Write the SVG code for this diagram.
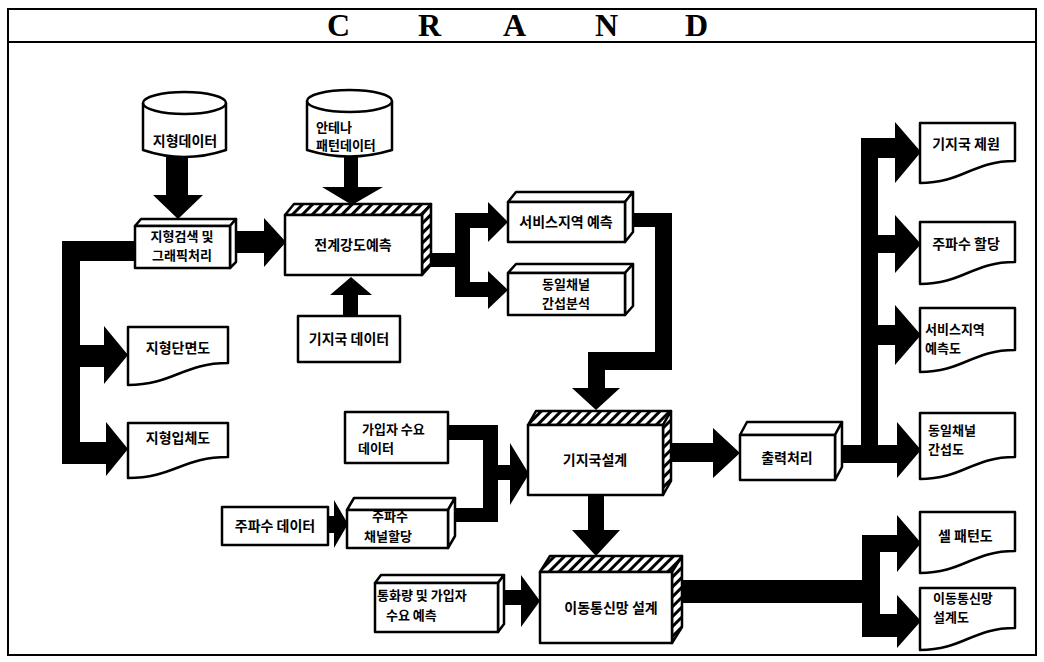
<svg xmlns="http://www.w3.org/2000/svg" width="1044" height="662" viewBox="0 0 1044 662">
<defs>
<pattern id="hatch" width="7" height="7" patternUnits="userSpaceOnUse" patternTransform="rotate(45)">
<rect width="7" height="7" fill="#fff"/><rect width="3" height="7" fill="#000"/>
</pattern>
<style>
.box{fill:#fff;stroke:#000;stroke-width:2.5;stroke-linejoin:round}
.hat{fill:url(#hatch);stroke:#000;stroke-width:2.5;stroke-linejoin:round}
.t{font-family:"Noto Sans CJK KR","Noto Sans",sans-serif;font-weight:bold;font-size:14px;fill:#000}
.t2{font-size:13px}
.c{text-anchor:middle}
.ttl{font-family:"Liberation Serif",serif;font-weight:bold;font-size:32px;fill:#000}
.frame{fill:none;stroke:#000;stroke-width:2}
.arr{fill:#000}
</style>
</defs>
<rect width="1044" height="662" fill="#fff"/>
<g id="frame">
<rect class="frame" x="8" y="9" width="1028" height="646"/>
<line class="frame" x1="8" y1="42" x2="1036" y2="42"/>
<text class="ttl" x="327 372 418 460 503 549 595 640 685" y="36">C R A N D</text>
</g>
<g id="connectors">
<path class="arr" d="M166,157 H188 V195 H203 L178,219 L153,195 H166 Z"/>
<path class="arr" d="M344,157 H358 V187 H383 L352,205 L322,187 H344 Z"/>
<path class="arr" d="M234,231 H264 V218 L286,242 L264,267 V253 H234 Z"/>
<path class="arr" d="M343,316 V295 H330 L351,277 L372,295 H358 V316 Z"/>
<path class="arr" d="M136,241 H62 V464 H106 V476 L128,449 L106,422 V442 H80 V367 H104 V384 L128,355 L104,326 V345 H80 V261 H136 Z"/>
<path class="arr" d="M430,253 H455 V213 H488 V202 L508,222 L488,242 V228 H470 V282 H488 V271 L508,290 L488,309 V297 H455 V267 H430 Z"/>
<path class="arr" d="M632,213 H672 V370 H605 V388 H620 L596,410 L572,388 H588 V352 H655 V227 H632 Z"/>
<path class="arr" d="M448,425 H498 V465 H510 V443 L529,474 L510,505 V480 H498 V522 H455 V508 H483 V440 H448 Z"/>
<path class="arr" d="M328,516 H334 V500 L348,524 L334,548 V533 H328 Z"/>
<path class="arr" d="M588,495 H604 V530 H620 L596,556 L572,530 H588 Z"/>
<path class="arr" d="M503,590 H521 V575 L540,601 L521,627 V605 H503 Z"/>
<path class="arr" d="M670,443 H713 V428 L740,453 L713,478 V462 H670 Z"/>
<path class="arr" d="M840,445 H861 V138 H895 V122 L921,152 L895,183 V158 H878 V235 H895 V215 L921,244 L895,273 V253 H878 V325 H895 V305 L921,335 L895,365 V345 H878 V445 H897 V422 L921,450 L897,478 V463 H840 Z"/>
<path class="arr" d="M682,580 H862 V535 H897 V515 L921,543 L897,572 V552 H880 V614 H897 V595 L921,621 L897,648 V637 H862 V603 H682 Z"/>
</g>
<g id="n-terrain-data">
<path class="box" d="M143,103 V150 Q184,164 226,150 V103"/>
<ellipse class="box" cx="184.5" cy="103" rx="41.5" ry="11"/>
<text class="t" x="185" y="146" text-anchor="middle">지형데이터</text>
</g>
<g id="n-antenna-data">
<path class="box" d="M307,101 V150 Q349,163 392,150 V101"/>
<ellipse class="box" cx="349.5" cy="101" rx="42.5" ry="11"/>
<text class="t t2" x="316" y="132">안테나</text>
<text class="t t2" x="316" y="150">패턴데이터</text>
</g>
<g id="n-terrain-search">
<path class="box" d="M135,226 L141,219 H236 L230,226 Z"/>
<path class="box" d="M230,226 L236,219 V262 L230,268 Z"/>
<rect class="box" x="135" y="226" width="95" height="42"/>
<text class="t t2 c" x="182" y="241">지형검색 및</text>
<text class="t t2 c" x="182" y="260">그래픽처리</text>
</g>
<g id="n-field-strength">
<path class="hat" d="M285,215 L294,204 H431 L422,215 Z"/>
<path class="hat" d="M422,215 L431,204 V265 L422,275 Z"/>
<rect class="box" x="285" y="215" width="137" height="60"/>
<text class="t c" x="353" y="250">전계강도예측</text>
</g>
<g id="n-bs-data">
<rect class="box" x="298" y="316" width="102" height="46"/>
<text class="t c" x="349" y="344">기지국 데이터</text>
</g>
<g id="n-terrain-section">
<path class="box" d="M128,327 H228 V363 C183,363 173,385 128,385 Z"/>
<text class="t c" x="178" y="353">지형단면도</text>
</g>
<g id="n-terrain-3d">
<path class="box" d="M128,423 H228 V457 C183,457 173,478 128,478 Z"/>
<text class="t c" x="178" y="443">지형입체도</text>
</g>
<g id="n-service-pred">
<path class="box" d="M508,202 L516,192 H633 L625,202 Z"/>
<path class="box" d="M625,202 L633,192 V232 L625,242 Z"/>
<rect class="box" x="508" y="202" width="117" height="40"/>
<text class="t c" x="566" y="227">서비스지역 예측</text>
</g>
<g id="n-cochannel">
<path class="box" d="M508,273 L516,264 H633 L625,273 Z"/>
<path class="box" d="M625,273 L633,264 V306 L625,315 Z"/>
<rect class="box" x="508" y="273" width="117" height="42"/>
<text class="t t2 c" x="566" y="289">동일채널</text>
<text class="t t2 c" x="566" y="308">간섭분석</text>
</g>
<g id="n-bs-design">
<path class="hat" d="M528,425 L536,411 H671 L663,425 Z"/>
<path class="hat" d="M663,425 L671,411 V481 L663,495 Z"/>
<rect class="box" x="528" y="425" width="135" height="70"/>
<text class="t c" x="595" y="465">기지국설계</text>
</g>
<g id="n-subscriber-data">
<rect class="box" x="345" y="412" width="103" height="51"/>
<text class="t t2" x="362" y="434">가입자 수요</text>
<text class="t t2" x="358" y="453">데이터</text>
</g>
<g id="n-freq-data">
<rect class="box" x="222" y="507" width="106" height="38"/>
<text class="t c" x="275" y="531">주파수 데이터</text>
</g>
<g id="n-freq-alloc">
<path class="box" d="M347,510 L354,498 H455 L448,510 Z"/>
<path class="box" d="M448,510 L455,498 V536 L448,548 Z"/>
<rect class="box" x="347" y="510" width="101" height="38"/>
<text class="t t2 c" x="390" y="521">주파수</text>
<text class="t t2 c" x="388" y="541">채널할당</text>
</g>
<g id="n-traffic">
<path class="box" d="M375,583 L381,575 H504 L498,583 Z"/>
<path class="box" d="M498,583 L504,575 V624 L498,632 Z"/>
<rect class="box" x="375" y="583" width="123" height="49"/>
<text class="t t2" x="377" y="600">통화량 및 가입자</text>
<text class="t t2" x="386" y="620">수요 예측</text>
</g>
<g id="n-network-design">
<path class="hat" d="M540,572 L550,556 H682 L672,572 Z"/>
<path class="hat" d="M672,572 L682,556 V627 L672,643 Z"/>
<rect class="box" x="540" y="572" width="132" height="71"/>
<text class="t c" x="611" y="613">이동통신망 설계</text>
</g>
<g id="n-output">
<path class="box" d="M740,435 L747,422 H842 L835,435 Z"/>
<path class="box" d="M835,435 L842,422 V467 L835,480 Z"/>
<rect class="box" x="740" y="435" width="95" height="45"/>
<text class="t c" x="787" y="463">출력처리</text>
</g>
<g id="n-bs-spec">
<path class="box" d="M920,123 H1015 V161 C972,161 963,183 920,183 Z"/>
<text class="t c" x="966" y="149">기지국 제원</text>
</g>
<g id="n-freq-assign">
<path class="box" d="M920,222 H1015 V262 C972,262 963,284 920,284 Z"/>
<text class="t c" x="966" y="249">주파수 할당</text>
</g>
<g id="n-service-map">
<path class="box" d="M920,308 H1015 V350 C972,350 963,372 920,372 Z"/>
<text class="t t2" x="925" y="334">서비스지역</text>
<text class="t t2" x="925" y="353">예측도</text>
</g>
<g id="n-cochannel-map">
<path class="box" d="M920,413 H1015 V457 C972,457 963,479 920,479 Z"/>
<text class="t t2" x="928" y="435">동일채널</text>
<text class="t t2" x="928" y="454">간섭도</text>
</g>
<g id="n-cell-pattern">
<path class="box" d="M920,512 H1015 V551 C972,551 963,573 920,573 Z"/>
<text class="t" x="938" y="541">셀 패턴도</text>
</g>
<g id="n-network-map">
<path class="box" d="M920,588 H1015 V628 C972,628 963,650 920,650 Z"/>
<text class="t t2" x="933" y="603">이동통신망</text>
<text class="t t2" x="933" y="622">설계도</text>
</g>
</svg>
